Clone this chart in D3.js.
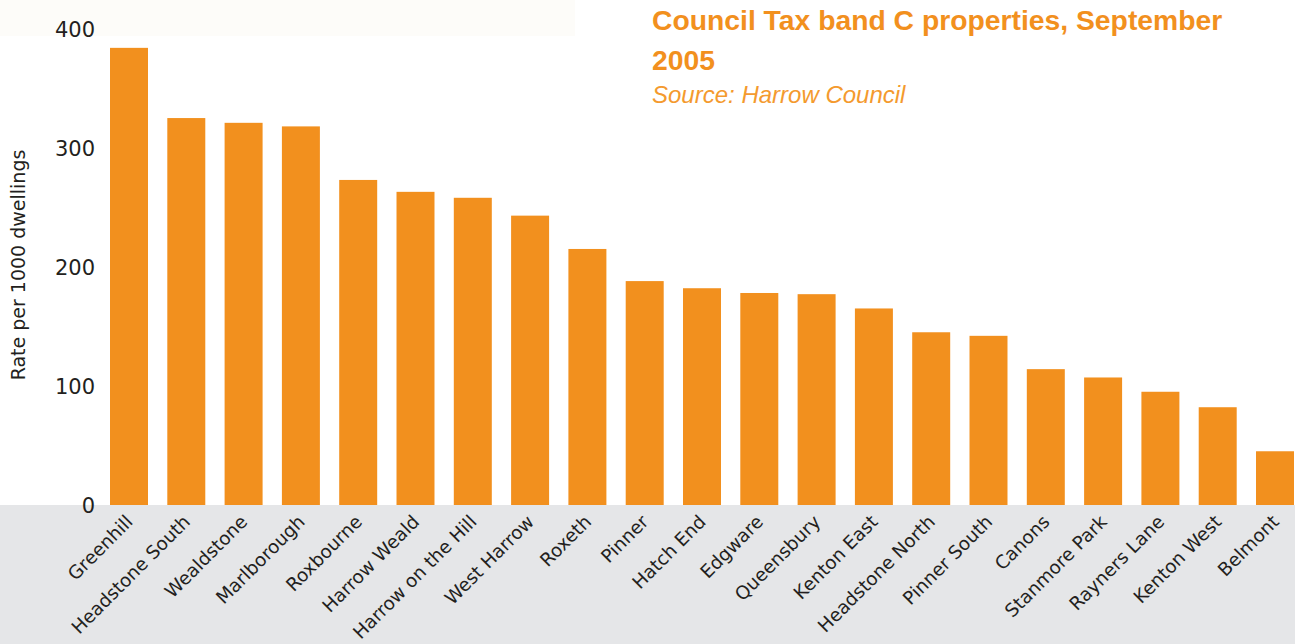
<!DOCTYPE html>
<html>
<head>
<meta charset="utf-8">
<script src="https://cdn.jsdelivr.net/npm/d3@7"></script>
<style>
  html, body { margin: 0; padding: 0; background: #ffffff; }
  svg { display: block; }
</style>
</head>
<body>
<svg id="chart" width="1295" height="644"></svg>
<script>
// Harrow wards, Council Tax band C rate per 1000 dwellings
const wards = ["Greenhill", "Headstone South", "Wealdstone", "Marlborough", "Roxbourne",
  "Harrow Weald", "Harrow on the Hill", "West Harrow", "Roxeth", "Pinner", "Hatch End",
  "Edgware", "Queensbury", "Kenton East", "Headstone North", "Pinner South", "Canons",
  "Stanmore Park", "Rayners Lane", "Kenton West", "Belmont"];
const rates = [385, 326, 322, 319, 274, 264, 259, 244, 216, 189, 183,
  179, 178, 166, 146, 143, 115, 108, 96, 83, 46];
const yTicks = [0, 100, 200, 300, 400];

const W = 1295, H = 644;
const orange = "#f2901e";
const axisFont = "'DejaVu Sans', Verdana, sans-serif";
const svg = d3.select("#chart");

// faint top strip and grey label band beneath the axis
svg.append("rect").attr("x", 0).attr("y", 0).attr("width", 575).attr("height", 36).attr("fill", "#fdfcf9");
const baseY = 506;
svg.append("rect").attr("x", 0).attr("y", baseY - 1).attr("width", W).attr("height", H - baseY + 1).attr("fill", "#e5e6e8");

const x = d3.scaleBand().domain(wards).range([110, 1294]).paddingInner(0.337).paddingOuter(0);
const y = d3.scaleLinear().domain([0, 400]).range([baseY, 30]);

// bars
svg.append("g").selectAll("rect").data(wards).join("rect")
  .attr("x", d => x(d))
  .attr("width", x.bandwidth())
  .attr("y", (d, i) => y(rates[i]))
  .attr("height", (d, i) => y(0) - y(rates[i]) - 1)
  .attr("fill", orange);

// y axis: labels only
const yAxis = d3.axisLeft(y).tickValues(yTicks).tickSize(0).tickPadding(0);
const gy = svg.append("g").attr("transform", "translate(95,0)").call(yAxis);
gy.select(".domain").remove();
gy.selectAll("text")
  .attr("font-family", axisFont)
  .attr("font-size", 21).attr("fill", "#231f20");

// x axis: rotated ward names
const xAxis = d3.axisBottom(x).tickSize(0).tickPadding(0);
const gx = svg.append("g").attr("transform", `translate(0,${baseY})`).call(xAxis);
gx.select(".domain").remove();
gx.selectAll("text")
  .attr("font-family", axisFont)
  .attr("font-size", 18.4).attr("fill", "#231f20")
  .attr("text-anchor", "end")
  .attr("dy", 0)
  .attr("y", 0)
  .attr("transform", "translate(5,17) rotate(-45)");

// y axis title
svg.append("text")
  .attr("transform", "translate(25,265) rotate(-90)")
  .attr("text-anchor", "middle")
  .attr("font-family", axisFont)
  .attr("font-size", 19).attr("fill", "#231f20")
  .text("Rate per 1000 dwellings");

// title block
const title = svg.append("g").attr("font-family", "'Liberation Sans Narrow', 'Liberation Sans', Arial, sans-serif");
title.append("text").attr("x", 652).attr("y", 30)
  .attr("font-size", 28.3).attr("font-weight", "bold").attr("fill", orange)
  .text("Council Tax band C properties, September");
title.append("text").attr("x", 652).attr("y", 70)
  .attr("font-size", 28.3).attr("font-weight", "bold").attr("fill", orange)
  .text("2005");
title.append("text").attr("x", 652).attr("y", 103)
  .attr("font-size", 24).attr("font-style", "italic").attr("fill", "#f49a2e")
  .text("Source: Harrow Council");
</script>
</body>
</html>
